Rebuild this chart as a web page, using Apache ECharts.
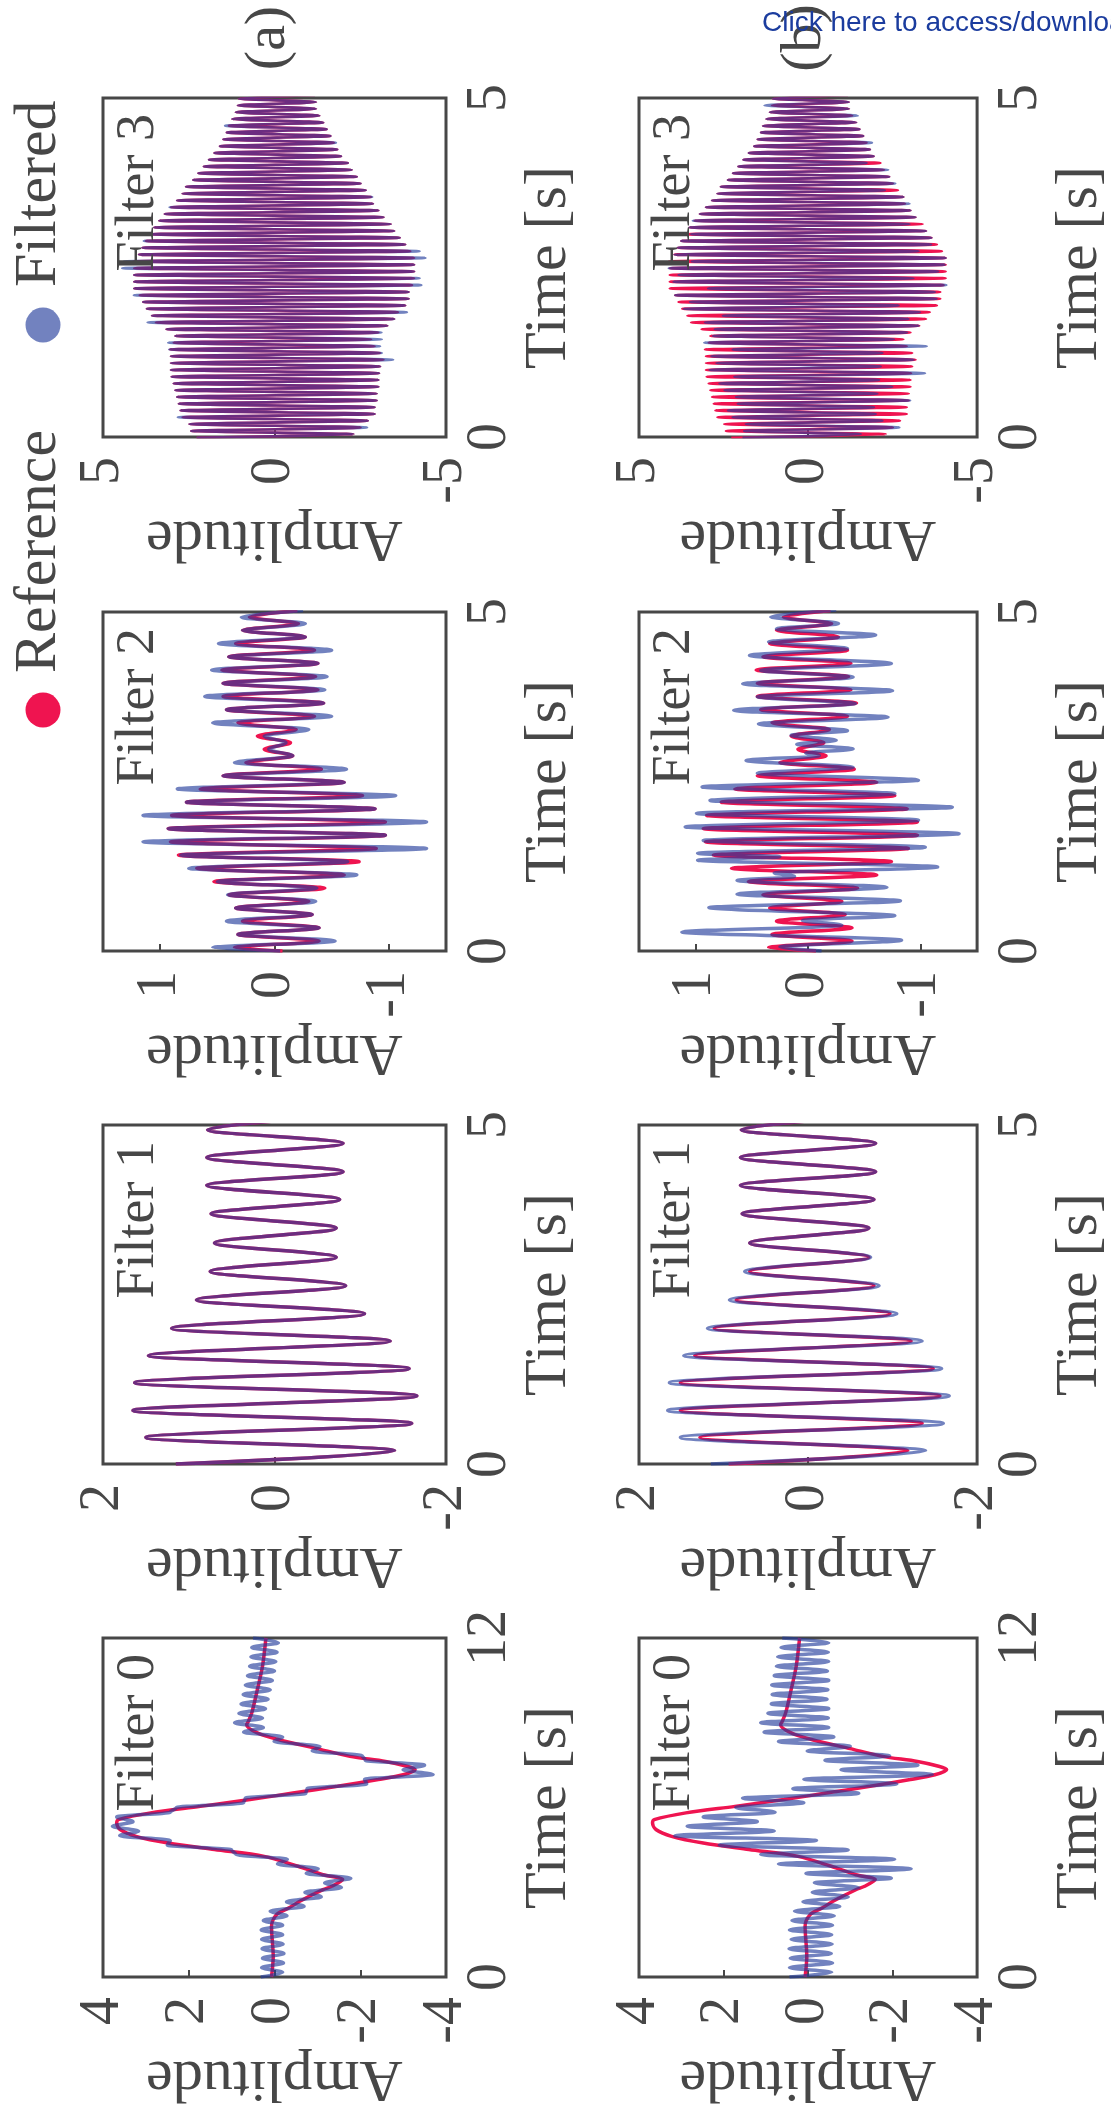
<!DOCTYPE html>
<html>
<head>
<meta charset="utf-8">
<title>Reference vs filtered signals</title>
<script src="https://cdn.jsdelivr.net/npm/echarts@6/dist/echarts.min.js"></script>
<style>
  html, body { margin: 0; padding: 0; background: #ffffff; }
  #chart { width: 1111px; height: 2112px; }
</style>
</head>
<body>
<div id="chart"></div>
<script>
// ---------------- data ----------------
// Filter 0: reference pulse, sample times [s] and amplitudes (shared by rows a and b)
const f0RefTime = [0, 0.73, 1.79, 2.21, 2.44, 2.68, 3.09, 3.21, 3.45, 3.62,
  3.92, 4.27, 4.51, 4.74, 4.98, 5.22, 5.45, 5.57, 5.81, 6.04,
  6.28, 6.51, 6.75, 6.99, 7.16, 7.34, 7.46, 7.63, 7.81, 8.05,
  8.40, 8.64, 8.93, 9.05, 9.35, 10.17, 11.0, 12];
const f0RefAmp = [0.07, 0.03, 0.07, -0.05, -0.33, -0.59, -1.13, -1.34, -1.59, -1.13,
  -0.55, 0.24, 1.40, 2.48, 3.23, 3.60, 3.68, 3.64, 2.89, 1.73,
  0.57, -0.43, -1.47, -2.42, -3.00, -3.28, -3.09, -2.59, -1.76, -1.09,
  -0.10, 0.40, 0.65, 0.61, 0.53, 0.40, 0.28, 0.20];
// Filter 0 filtered output: successive ripple extrema, one every 1/6 s from t = 0
const f0FiltStart = 0;
const f0FiltStep = 1 / 6;
const f0FiltA = [0.32, -0.19, 0.30, -0.21, 0.28, -0.22, 0.29, -0.20, 0.30, -0.19,
  0.31, -0.19, 0.26, -0.29, 0.10, -0.69, -0.28, -1.09, -0.71, -1.56,
  -1.17, -1.78, -0.74, -1.02, -0.07, -0.30, 0.90, 1.00, 2.50, 2.43,
  3.61, 3.17, 3.78, 3.30, 3.68, 2.43, 2.29, 0.72, 0.68, -0.73,
  -0.76, -2.15, -2.10, -3.70, -3.00, -3.50, -2.12, -2.05, -0.88, -1.06,
  0.01, -0.19, 0.72, 0.26, 0.93, 0.28, 0.83, 0.21, 0.78, 0.15,
  0.73, 0.10, 0.68, 0.05, 0.63, 0.00, 0.58, -0.03, 0.55, -0.06,
  0.53, -0.09, 0.50];
const f0FiltB = [0.44, -0.56, 0.44, -0.58, 0.42, -0.55, 0.45, -0.57, 0.40, -0.56,
  0.44, -0.58, 0.38, -0.62, 0.32, -0.75, 0.12, -0.95, -0.10, -1.20,
  -0.15, -1.97, 0.05, -2.44, 0.70, -2.05, 1.12, -0.95, 2.10, -0.20,
  3.15, 0.80, 2.86, 1.20, 2.48, 0.78, 1.71, 0.10, 1.55, -1.20,
  0.36, -2.10, 0.10, -2.94, -0.78, -2.60, -0.40, -1.93, 0.02, -1.00,
  0.70, -0.61, 1.04, -0.49, 1.12, -0.48, 0.95, -0.49, 0.87, -0.45,
  0.85, -0.47, 0.86, -0.49, 0.80, -0.46, 0.75, -0.49, 0.72, -0.48,
  0.64, -0.49, 0.61];

// Filter 1: extrema times [s] and amplitudes
const f1Time = [0, 0.196, 0.392, 0.60, 0.79, 1.005, 1.20, 1.407, 1.60, 1.814,
  2.0, 2.216, 2.42, 2.63, 2.84, 3.05, 3.26, 3.48, 3.69, 3.90,
  4.11, 4.31, 4.52, 4.73, 4.93, 5.14];
const f1RefA = [1.15, -1.40, 1.50, -1.60, 1.65, -1.66, 1.63, -1.57, 1.47, -1.35,
  1.20, -1.05, 0.91, -0.83, 0.75, -0.72, 0.70, -0.72, 0.74, -0.76,
  0.79, -0.80, 0.79, -0.80, 0.78, -0.80];
const f1FiltA = [1.15, -1.40, 1.50, -1.60, 1.65, -1.66, 1.63, -1.57, 1.47, -1.35,
  1.20, -1.05, 0.91, -0.83, 0.75, -0.72, 0.70, -0.72, 0.74, -0.76,
  0.79, -0.80, 0.79, -0.80, 0.78, -0.80];
const f1RefB = [0.94, -1.18, 1.28, -1.35, 1.51, -1.56, 1.51, -1.48, 1.34, -1.22,
  1.11, -0.97, 0.85, -0.78, 0.69, -0.72, 0.69, -0.72, 0.78, -0.78,
  0.80, -0.80, 0.80, -0.80, 0.79, -0.80];
const f1FiltB = [1.15, -1.39, 1.51, -1.60, 1.66, -1.67, 1.64, -1.58, 1.47, -1.35,
  1.19, -1.05, 0.93, -0.84, 0.75, -0.74, 0.69, -0.72, 0.78, -0.78,
  0.80, -0.80, 0.80, -0.80, 0.79, -0.80];

// Filter 2: initial sample, then extrema every half period
const f2Start = 0.05;
const f2HalfPeriod = 0.0975;
const f2RefInit = -0.07;
const f2Ref = [0.35, -0.39, 0.32, -0.39, 0.28, -0.33, 0.34, -0.30, 0.40, -0.44,
  0.53, -0.61, 0.68, -0.74, 0.84, -0.89, 0.91, -0.97, 0.93, -0.97,
  0.90, -0.88, 0.77, -0.77, 0.65, -0.61, 0.45, -0.41, 0.25, -0.16,
  0.09, -0.14, 0.15, -0.19, 0.32, -0.35, 0.42, -0.43, 0.45, -0.38,
  0.45, -0.36, 0.46, -0.38, 0.40, -0.35, 0.34, -0.27, 0.28, -0.21,
  0.22, -0.20];
const f2FiltAInit = -0.05;
const f2FiltA = [0.54, -0.53, 0.32, -0.39, 0.42, -0.33, 0.34, -0.36, 0.41, -0.37,
  0.50, -0.72, 0.75, -0.64, 0.82, -1.33, 1.15, -0.97, 0.93, -1.33,
  1.15, -0.88, 0.77, -1.06, 0.85, -0.61, 0.45, -0.63, 0.35, -0.16,
  0.05, -0.10, 0.09, -0.30, 0.54, -0.50, 0.42, -0.43, 0.61, -0.44,
  0.45, -0.46, 0.55, -0.38, 0.40, -0.50, 0.49, -0.27, 0.28, -0.27,
  0.29, -0.25];
const f2FiltBTime = [0, 0.06, 0.16, 0.28, 0.38, 0.45, 0.52, 0.64, 0.74, 0.84,
  0.94, 1.04, 1.10, 1.15, 1.24, 1.34, 1.39, 1.44, 1.53, 1.63,
  1.73, 1.83, 1.93, 2.03, 2.12, 2.22, 2.32, 2.42, 2.52, 2.62,
  2.71, 2.81, 2.88, 2.92, 2.98, 3.05, 3.11, 3.18, 3.25, 3.35,
  3.45, 3.55, 3.65, 3.75, 3.84, 3.94, 4.04, 4.14, 4.24, 4.36,
  4.46, 4.56, 4.66, 4.75, 4.83, 4.93, 5.03];
const f2FiltBAmp = [-0.12, 0.25, -0.83, 1.12, -0.30, 0.05, -0.77, 0.88, -0.82, 0.63,
  -0.70, 0.63, 0.12, 0.30, -1.15, 0.98, 0.25, 0.98, -1.04, 0.93,
  -1.34, 1.09, -0.98, 0.99, -1.28, 0.87, -0.77, 0.94, -0.98, 0.45,
  -0.40, 0.55, -0.10, 0.02, -0.40, 0.10, -0.25, 0.15, -0.35, 0.44,
  -0.71, 0.66, -0.42, 0.45, -0.75, 0.58, -0.40, 0.42, -0.74, 0.52,
  -0.35, 0.35, -0.60, 0.28, -0.27, 0.33, -0.25];

// Filter 3: 10 Hz carrier, extrema every 0.05 s starting at t = -0.01
const f3Start = -0.01;
const f3HalfPeriod = 0.05;
const f3Ref = [2.27, -2.30, 2.43, -2.51, 2.48, -2.72, 2.68, -2.92, 2.74, -2.92,
  2.79, -2.98, 2.84, -2.98, 2.89, -3.03, 2.94, -3.03, 3.00, -3.05,
  3.02, -3.08, 3.02, -3.18, 3.02, -3.08, 3.05, -2.92, 2.94, -2.82,
  2.89, -3.03, 3.15, -3.29, 3.46, -3.49, 3.57, -3.60, 3.72, -3.81,
  3.83, -3.91, 3.93, -3.91, 4.09, -4.01, 4.09, -4.07, 4.09, -4.07,
  4.09, -4.07, 4.12, -4.07, 3.95, -3.96, 3.85, -3.81, 3.75, -3.65,
  3.62, -3.49, 3.51, -3.39, 3.36, -3.18, 3.20, -3.03, 3.02, -2.87,
  2.84, -2.82, 2.68, -2.66, 2.58, -2.51, 2.37, -2.40, 2.22, -2.25,
  2.06, -2.14, 1.91, -1.94, 1.75, -1.83, 1.59, -1.73, 1.49, -1.63,
  1.39, -1.52, 1.33, -1.42, 1.23, -1.31, 1.13, -1.21, 1.07, -1.21,
  1.04, -1.18];
const f3FiltA = [2.27, -2.30, 2.43, -2.70, 2.48, -2.72, 2.82, -2.92, 2.74, -2.92,
  2.79, -2.98, 2.84, -2.98, 2.89, -3.03, 2.94, -3.03, 3.00, -3.05,
  3.02, -3.08, 3.02, -3.46, 3.02, -3.13, 3.07, -3.08, 3.10, -3.13,
  2.89, -3.12, 3.15, -3.29, 3.70, -3.49, 3.57, -3.86, 3.72, -3.81,
  3.83, -3.91, 4.10, -3.91, 4.09, -4.28, 4.09, -4.23, 4.09, -4.07,
  4.44, -4.07, 4.40, -4.40, 3.95, -4.23, 3.85, -3.81, 3.81, -3.65,
  3.62, -3.49, 3.51, -3.39, 3.36, -3.18, 3.20, -3.03, 3.06, -2.87,
  2.84, -2.85, 2.68, -2.66, 2.58, -2.51, 2.37, -2.40, 2.22, -2.25,
  2.06, -2.14, 1.91, -1.94, 1.75, -1.83, 1.59, -1.79, 1.49, -1.63,
  1.39, -1.52, 1.44, -1.42, 1.23, -1.31, 1.13, -1.21, 1.07, -1.21,
  1.04, -1.18];
const f3FiltB = [1.94, -1.56, 1.89, -2.70, 1.84, -2.20, 2.23, -2.00, 2.37, -1.95,
  2.08, -3.02, 2.13, -2.05, 2.47, -2.49, 2.62, -2.10, 2.18, -3.46,
  2.91, -2.15, 2.71, -3.12, 2.86, -2.20, 2.23, -3.51, 3.07, -2.54,
  2.81, -2.93, 2.76, -3.27, 3.05, -2.97, 2.52, -3.31, 3.68, -2.68,
  3.49, -3.80, 3.93, -3.75, 2.96, -4.09, 3.98, -3.12, 3.83, -3.85,
  4.12, -4.04, 3.44, -4.07, 3.95, -3.27, 3.85, -3.64, 3.75, -3.65,
  3.46, -3.49, 3.51, -3.00, 3.41, -3.18, 3.20, -3.03, 3.02, -3.00,
  2.84, -2.82, 2.68, -2.27, 2.58, -2.58, 2.37, -2.40, 2.22, -2.37,
  2.06, -1.73, 1.91, -1.94, 1.75, -1.83, 1.59, -1.89, 1.49, -1.63,
  1.39, -1.52, 1.33, -1.42, 1.23, -1.47, 1.13, -1.21, 1.29, -1.21,
  1.04, -1.18];

// Axis settings per filter
const ampRange = [[-4, 4], [-2, 2], [-1.5, 1.5], [-5, 5]];
const ampTicks = [[-4, -2, 0, 2, 4], [-2, 0, 2], [-1, 0, 1], [-5, 0, 5]];
const timeMax = [12, 5, 5, 5];
const rowLabels = ['(a)', '(b)'];
const legendNames = ['Reference', 'Filtered'];

// ---------------- helpers ----------------
// points are [amplitude, time]: amplitude runs horizontally, time vertically
function fromTimes(times, amps) { return amps.map((a, i) => [a, times[i]]); }
function fromGrid(t0, dt, amps) { return amps.map((a, i) => [a, Math.round((t0 + i * dt) * 10000) / 10000]); }

const traces = {
  '0a': { ref: fromTimes(f0RefTime, f0RefAmp), filt: fromGrid(f0FiltStart, f0FiltStep, f0FiltA), refSmooth: 'curve' },
  '0b': { ref: fromTimes(f0RefTime, f0RefAmp), filt: fromGrid(f0FiltStart, f0FiltStep, f0FiltB), refSmooth: 'curve' },
  '1a': { ref: fromTimes(f1Time, f1RefA), filt: fromTimes(f1Time, f1FiltA) },
  '1b': { ref: fromTimes(f1Time, f1RefB), filt: fromTimes(f1Time, f1FiltB) },
  '2a': { ref: [[f2RefInit, 0]].concat(fromGrid(f2Start, f2HalfPeriod, f2Ref)),
          filt: [[f2FiltAInit, 0]].concat(fromGrid(f2Start, f2HalfPeriod, f2FiltA)) },
  '2b': { ref: [[f2RefInit, 0]].concat(fromGrid(f2Start, f2HalfPeriod, f2Ref)),
          filt: fromTimes(f2FiltBTime, f2FiltBAmp) },
  '3a': { ref: fromGrid(f3Start, f3HalfPeriod, f3Ref), filt: fromGrid(f3Start, f3HalfPeriod, f3FiltA) },
  '3b': { ref: fromGrid(f3Start, f3HalfPeriod, f3Ref), filt: fromGrid(f3Start, f3HalfPeriod, f3FiltB) }
};

// ---------------- layout & style ----------------
const FONT = '"Liberation Serif", "Times New Roman", Times, serif';
const INK = '#474747';
const RED = '#ef1450';
const BLUE = 'rgba(35, 60, 155, 0.64)';
const colLeft = [103, 639];
const colWidth = 343;
const rowTop = [1638, 1125, 612, 98];   // filter 0 .. 3
const rowHeight = 339;
const lineWidth = [3.5, 3.5, 3.5, 2.6];
const tickFont = 56, nameFont = 60, tagFont = 54, legendFont = 60;

const grid = [], xAxis = [], yAxis = [], series = [], graphic = [];
let idx = 0;
for (let f = 0; f < 4; f++) {
  for (let c = 0; c < 2; c++) {
    const key = f + (c === 0 ? 'a' : 'b');
    const tr = traces[key];
    grid.push({
      left: colLeft[c], top: rowTop[f], width: colWidth, height: rowHeight,
      show: true, borderColor: INK, borderWidth: 3, backgroundColor: 'transparent'
    });
    xAxis.push({
      type: 'value', gridIndex: idx, min: ampRange[f][0], max: ampRange[f][1],
      inverse: true, position: 'bottom',
      axisLine: { show: false }, splitLine: { show: false },
      axisTick: { show: true, inside: true, length: 7, customValues: ampTicks[f], lineStyle: { color: INK, width: 2 } },
      axisLabel: { rotate: 90, margin: 20, fontSize: tickFont, fontFamily: FONT, color: INK, customValues: ampTicks[f],
                   formatter: v => String(v) },
      name: 'Amplitude', nameLocation: 'middle', nameGap: 66, nameRotate: 180,
      nameTextStyle: { fontSize: nameFont, fontFamily: FONT, color: INK }
    });
    yAxis.push({
      type: 'value', gridIndex: idx, min: 0, max: timeMax[f], position: 'right',
      axisLine: { show: false }, splitLine: { show: false }, axisTick: { show: false },
      axisLabel: { rotate: 90, margin: 16, fontSize: tickFont, fontFamily: FONT, color: INK, customValues: [0, timeMax[f]] },
      name: 'Time [s]', nameLocation: 'middle', nameGap: 72, nameRotate: 90,
      nameTextStyle: { fontSize: nameFont, fontFamily: FONT, color: INK }
    });
    const refCurve = tr.refSmooth === 'curve';
    series.push({
      name: legendNames[0], type: 'line', xAxisIndex: idx, yAxisIndex: idx, data: tr.ref,
      showSymbol: false, symbol: 'none', smooth: refCurve ? 0.3 : 0.33, smoothMonotone: refCurve ? 'none' : 'y',
      lineStyle: { color: RED, width: lineWidth[f] }, itemStyle: { color: RED }, silent: true, z: 2
    });
    series.push({
      name: legendNames[1], type: 'line', xAxisIndex: idx, yAxisIndex: idx, data: tr.filt,
      showSymbol: false, symbol: 'none', smooth: 0.33, smoothMonotone: 'y',
      lineStyle: { color: BLUE, width: lineWidth[f] }, itemStyle: { color: BLUE }, silent: true, z: 3
    });
    // panel tag, reading upward inside the upper-left corner
    graphic.push({
      type: 'text', x: colLeft[c] + 9, y: rowTop[f] + 16, rotation: Math.PI / 2, z: 100,
      style: { text: 'Filter ' + f, font: tagFont + 'px ' + FONT, fill: INK,
               textAlign: 'right', align: 'right', textVerticalAlign: 'top', verticalAlign: 'top' }
    });
    idx++;
  }
}

// row tags (a) / (b)
[0, 1].forEach(c => {
  graphic.push({
    type: 'text', x: colLeft[c] + colWidth / 2 - 6, y: 38, rotation: Math.PI / 2, z: 100,
    style: { text: rowLabels[c], font: '58px ' + FONT, fill: INK,
             textAlign: 'center', align: 'center', textVerticalAlign: 'middle', verticalAlign: 'middle' }
  });
});

// legend: coloured dots with upward-reading names
const legendItems = [
  { name: legendNames[0], color: RED, dotY: 710, textY: 673 },
  { name: legendNames[1], color: BLUE, dotY: 325, textY: 287 }
];
legendItems.forEach(it => {
  graphic.push({ type: 'circle', shape: { cx: 43, cy: it.dotY, r: 17.5 }, style: { fill: it.color }, z: 100 });
  graphic.push({
    type: 'text', x: 39, y: it.textY, rotation: Math.PI / 2, z: 100,
    style: { text: it.name, font: legendFont + 'px ' + FONT, fill: INK,
             textAlign: 'left', align: 'left', textVerticalAlign: 'middle', verticalAlign: 'middle' }
  });
});

// download banner across the top edge
graphic.push({
  type: 'text', x: 762, y: 23, z: 200,
  style: { text: 'Click here to access/download', font: '28px "Liberation Sans", Arial, sans-serif', fill: '#1b3c9e',
           textAlign: 'left', align: 'left', textVerticalAlign: 'middle', verticalAlign: 'middle' }
});

const chart = echarts.init(document.getElementById('chart'), null, { renderer: 'canvas' });
chart.setOption({
  animation: false,
  backgroundColor: '#ffffff',
  grid, xAxis, yAxis, series, graphic
});
</script>
</body>
</html>
